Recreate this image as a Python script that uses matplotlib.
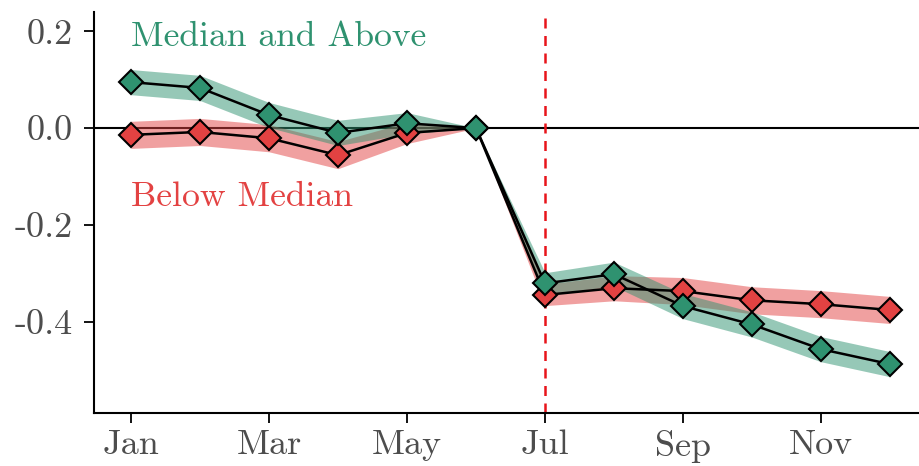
import matplotlib
matplotlib.use("Agg")
import matplotlib.pyplot as plt
import numpy as np

months = [1, 2, 3, 4, 5, 6, 7, 8, 9, 10, 11, 12]
above = [0.095, 0.083, 0.027, -0.010, 0.010, 0.0, -0.321, -0.302, -0.368, -0.406, -0.457, -0.488]
above_ci = [0.026, 0.026, 0.026, 0.026, 0.022, 0.0, 0.022, 0.025, 0.026, 0.026, 0.026, 0.026]
below = [-0.014, -0.008, -0.021, -0.056, -0.010, 0.0, -0.345, -0.331, -0.337, -0.356, -0.364, -0.376]
below_ci = [0.028, 0.028, 0.028, 0.028, 0.022, 0.0, 0.022, 0.026, 0.028, 0.028, 0.028, 0.028]
xtick_pos = [1, 3, 5, 7, 9, 11]
xtick_labels = ["Jan", "Mar", "May", "Jul", "Sep", "Nov"]
ytick_pos = [0.2, 0.0, -0.2, -0.4]
ytick_labels = ["0.2", "0.0", "-0.2", "-0.4"]
treat_month = 7

green = "#2f9270"
red = "#e34242"

plt.rcParams['font.family'] = ['cmr10', 'DejaVu Serif']
plt.rcParams['axes.unicode_minus'] = False

fig = plt.figure(figsize=(9.19, 4.66), dpi=100)
ax = fig.add_axes([0.1023, 0.1137, 0.8977, 0.8606])

m = np.array(months)
a = np.array(above); ac = np.array(above_ci)
b = np.array(below); bc = np.array(below_ci)

ax.axhline(0, color="black", lw=1.5, zorder=1)
ax.axvline(treat_month, color="#e8141a", lw=1.8, ls=(0, (4, 3)), zorder=1)

ax.fill_between(m, b - bc, b + bc, color=red, alpha=0.5, lw=0, zorder=2)
ax.fill_between(m, a - ac, a + ac, color=green, alpha=0.5, lw=0, zorder=2)
ax.plot(m, b, color="black", lw=1.8, marker="D", ms=12, mfc=red, mec="black", mew=1.5, zorder=3)
ax.plot(m, a, color="black", lw=1.8, marker="D", ms=12, mfc=green, mec="black", mew=1.5, zorder=4)

ax.text(1, 0.188, "Median and Above", color=green, fontsize=25.7, va="center", ha="left")
ax.text(1, -0.143, "Below Median", color=red, fontsize=25.7, va="center", ha="left")

ax.set_xlim(0.464, 12.42)
ax.set_ylim(-0.589, 0.24)
ax.set_xticks(xtick_pos)
ax.set_xticklabels(xtick_labels)
ax.set_yticks(ytick_pos)
ax.set_yticklabels(ytick_labels)
ax.tick_params(axis="both", length=7, width=1.3, color="black", labelcolor="#4d4d4d", labelsize=26)
ax.tick_params(axis="x", pad=5)
ax.tick_params(axis="y", pad=8)
for s in ["top", "right"]:
    ax.spines[s].set_visible(False)
for s in ["left", "bottom"]:
    ax.spines[s].set_linewidth(1.5)

fig.savefig("out.png", dpi=100)
